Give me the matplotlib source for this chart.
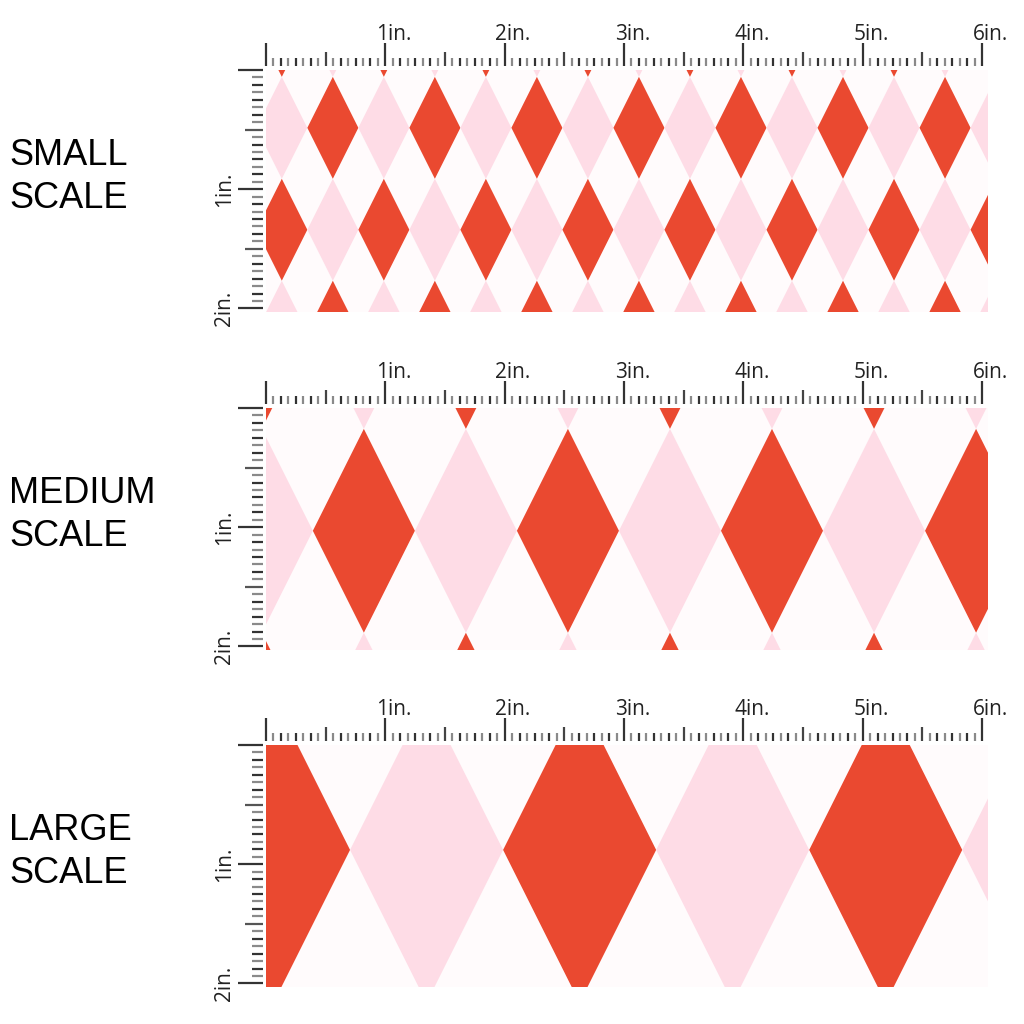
import matplotlib.pyplot as plt
from matplotlib.patches import Polygon

# scale names shown on the left
scale_names = ['SMALL\nSCALE', 'MEDIUM\nSCALE', 'LARGE\nSCALE']
# diamond size in inches (width, height) for each scale
diamond_w = [0.4275, 0.855, 1.2825]
diamond_h = [0.855, 1.71, 2.565]
# centre of one red diamond (inches from top-left of the swatch)
red_x0 = [0.56, 0.82, 0.063]
red_y0 = [0.485, 1.03, 0.88]
# ruler labels
top_labels = ['1in.', '2in.', '3in.', '4in.', '5in.', '6in.']
side_labels = ['1in.', '2in.']

RED = '#EA4930'
PINK = '#FEDCE6'
BG = '#FFFBFC'

swatch_w = 6.05
swatch_h = 2.03
panel_top_px = [70, 408, 745]

fig = plt.figure(figsize=(10.24, 10.24), dpi=100)
fig.patch.set_facecolor('white')

for p in range(3):
    top = panel_top_px[p]
    ax = fig.add_axes([266/1024, 1 - (top + 242)/1024, 722/1024, 242/1024])
    ax.set_xlim(0, swatch_w)
    ax.set_ylim(swatch_h, 0)
    ax.axis('off')
    ax.add_patch(plt.Rectangle((0, 0), swatch_w, swatch_h, color=BG, zorder=0))

    w = diamond_w[p]
    h = diamond_h[p]
    for r in range(-3, 4):
        yc = red_y0[p] + r*h
        for i in range(-12, 20):
            xc = red_x0[p] + i*w
            if xc + w/2 < 0 or xc - w/2 > swatch_w:
                continue
            if yc + h/2 < 0 or yc - h/2 > swatch_h:
                continue
            col = RED if (i + r) % 2 == 0 else PINK
            pts = [(xc - w/2, yc), (xc, yc - h/2), (xc + w/2, yc), (xc, yc + h/2)]
            ax.add_patch(Polygon(pts, closed=True, color=col, lw=0, zorder=1))

    # top ruler
    for k in range(0, 97):
        x = k/16
        if k % 16 == 0:
            ln, c = 0.19, '#333333'
        elif k % 8 == 0:
            ln, c = 0.12, '#444444'
        elif k % 2 == 0:
            ln, c = 0.065, '#333333'
        else:
            ln, c = 0.065, '#8a8a8a'
        ax.plot([x, x], [-0.035, -0.035 - ln], color=c, lw=1.6, clip_on=False,
                solid_capstyle='butt')
    for k, lab in enumerate(top_labels):
        ax.text(k + 1 + 0.07, -0.25, lab, ha='center', va='baseline', fontsize=15,
                family='Open Sans', color='#222222', clip_on=False)

    # side ruler
    for k in range(0, 33):
        y = k/16
        if k % 16 == 0:
            ln, c = 0.21, '#333333'
        elif k % 8 == 0:
            ln, c = 0.15, '#555555'
        elif k % 2 == 0:
            ln, c = 0.09, '#333333'
        else:
            ln, c = 0.09, '#8a8a8a'
        ax.plot([-0.025, -0.025 - ln], [y, y], color=c, lw=1.6, clip_on=False,
                solid_capstyle='butt')
    for k, lab in enumerate(side_labels):
        ax.text(-0.345, k + 1, lab, ha='center', va='center', fontsize=15,
                family='Open Sans', color='#222222', rotation=90, clip_on=False)

    # scale name
    fig.text(9/1024, 1 - (top + 107)/1024, scale_names[p], ha='left', va='center',
             fontsize=26, family='Liberation Sans', color='black', linespacing=1.3)

fig.savefig('out.png', dpi=100, facecolor='white')
